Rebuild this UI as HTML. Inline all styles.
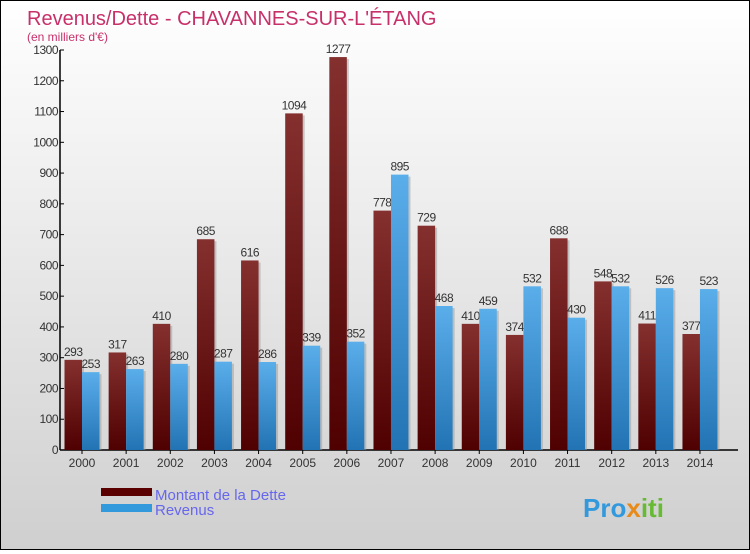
<!DOCTYPE html>
<html><head><meta charset="utf-8"><style>
body{margin:0;width:750px;height:550px;overflow:hidden;font-family:"Liberation Sans",sans-serif}
#wrap{position:relative;width:748px;height:548px;border:1px solid #000;background:linear-gradient(#ffffff,#cfcfcf)}
</style></head><body>
<div id="wrap">
<svg id="chart" width="748" height="548">
<defs>
<linearGradient id="gd" x1="0" y1="0" x2="0" y2="1"><stop offset="0" stop-color="#84302f"/><stop offset="1" stop-color="#4f0000"/></linearGradient>
<linearGradient id="gr" x1="0" y1="0" x2="0" y2="1"><stop offset="0" stop-color="#5aaeea"/><stop offset="1" stop-color="#2273b3"/></linearGradient>
</defs>
<text x="26" y="24" font-size="20" fill="#c8306a">Revenus/Dette - CHAVANNES-SUR-L'ÉTANG</text>
<text x="26" y="40" font-size="12" fill="#c8306a">(en milliers d'€)</text>
<g id="axes"></g><g id="bars"></g>
<rect x="100" y="487" width="51" height="8" fill="#5a0000"/>
<rect x="100" y="503" width="51" height="8" fill="#3399dd"/>
<text x="154" y="499" font-size="15" fill="#6666ee">Montant de la Dette</text>
<text x="154" y="514" font-size="15" fill="#6666ee">Revenus</text>
<text x="582" y="516" font-size="26" font-weight="bold" fill="#3399dd">Pro<tspan fill="#e88a1a">x</tspan><tspan fill="#66bb33">iti</tspan></text>
</svg></div>
<script>
const years=["2000","2001","2002","2003","2004","2005","2006","2007","2008","2009","2010","2011","2012","2013","2014"];
const dette=[293,317,410,685,616,1094,1277,778,729,410,374,688,548,411,377];
const revenus=[253,263,280,287,286,339,352,895,468,459,532,430,532,526,523];
const ticks=[0,100,200,300,400,500,600,700,800,900,1000,1100,1200,1300];
const NS="http://www.w3.org/2000/svg";
const y0=449,yTop=49,vmax=1300,x0=59,gw=44.14,bw=17.5;
function Y(v){return y0-(v/vmax)*(y0-yTop);}
function X(i){return 81+i*gw;}
function mk(t,a,p){const e=document.createElementNS(NS,t);for(const k in a)e.setAttribute(k,a[k]);p.appendChild(e);return e;}
const ax=document.getElementById('axes'),bg=document.getElementById('bars');
let l=mk('line',{x1:x0,y1:yTop,x2:x0,y2:y0,stroke:'#000','stroke-width':1.5},ax);


l=mk('line',{x1:x0,y1:y0,x2:737,y2:y0,stroke:'#000','stroke-width':1.5},ax);


ticks.forEach(v=>{
 mk('line',{x1:x0,y1:Y(v),x2:x0+4,y2:Y(v),stroke:'#000'},ax);
 const t=mk('text',{x:x0-2,y:Y(v)+4,'font-size':12,'text-anchor':'end',fill:'#333','letter-spacing':'-0.5'},ax);
 t.textContent=v;
 
 
});
years.forEach((yr,i)=>{
 const cx=X(i);
 mk('line',{x1:cx,y1:y0,x2:cx,y2:y0+4,stroke:'#000'},ax);
 const t=mk('text',{x:cx,y:466,'font-size':12,'text-anchor':'middle',fill:'#333'},ax);
 t.textContent=yr;
 
 
 [[dette[i],cx-bw,'url(#gd)','bar-dette-'+yr],[revenus[i],cx,'url(#gr)','bar-revenus-'+yr]].forEach(([v,x,f,n])=>{
  mk('rect',{x:x+2,y:Y(v)+2,width:bw,height:y0-Y(v)-2,fill:'#999',opacity:0.5},bg);
  const r=mk('rect',{x:x,y:Y(v),width:bw,height:y0-Y(v),fill:f},bg);
  
  
  const lt=mk('text',{x:x+bw/2,y:Y(v)-4,'font-size':12,'text-anchor':'middle',fill:'#333','letter-spacing':'-0.5'},bg);
  lt.textContent=v;
  
  
 });
});
</script>
</body></html>
